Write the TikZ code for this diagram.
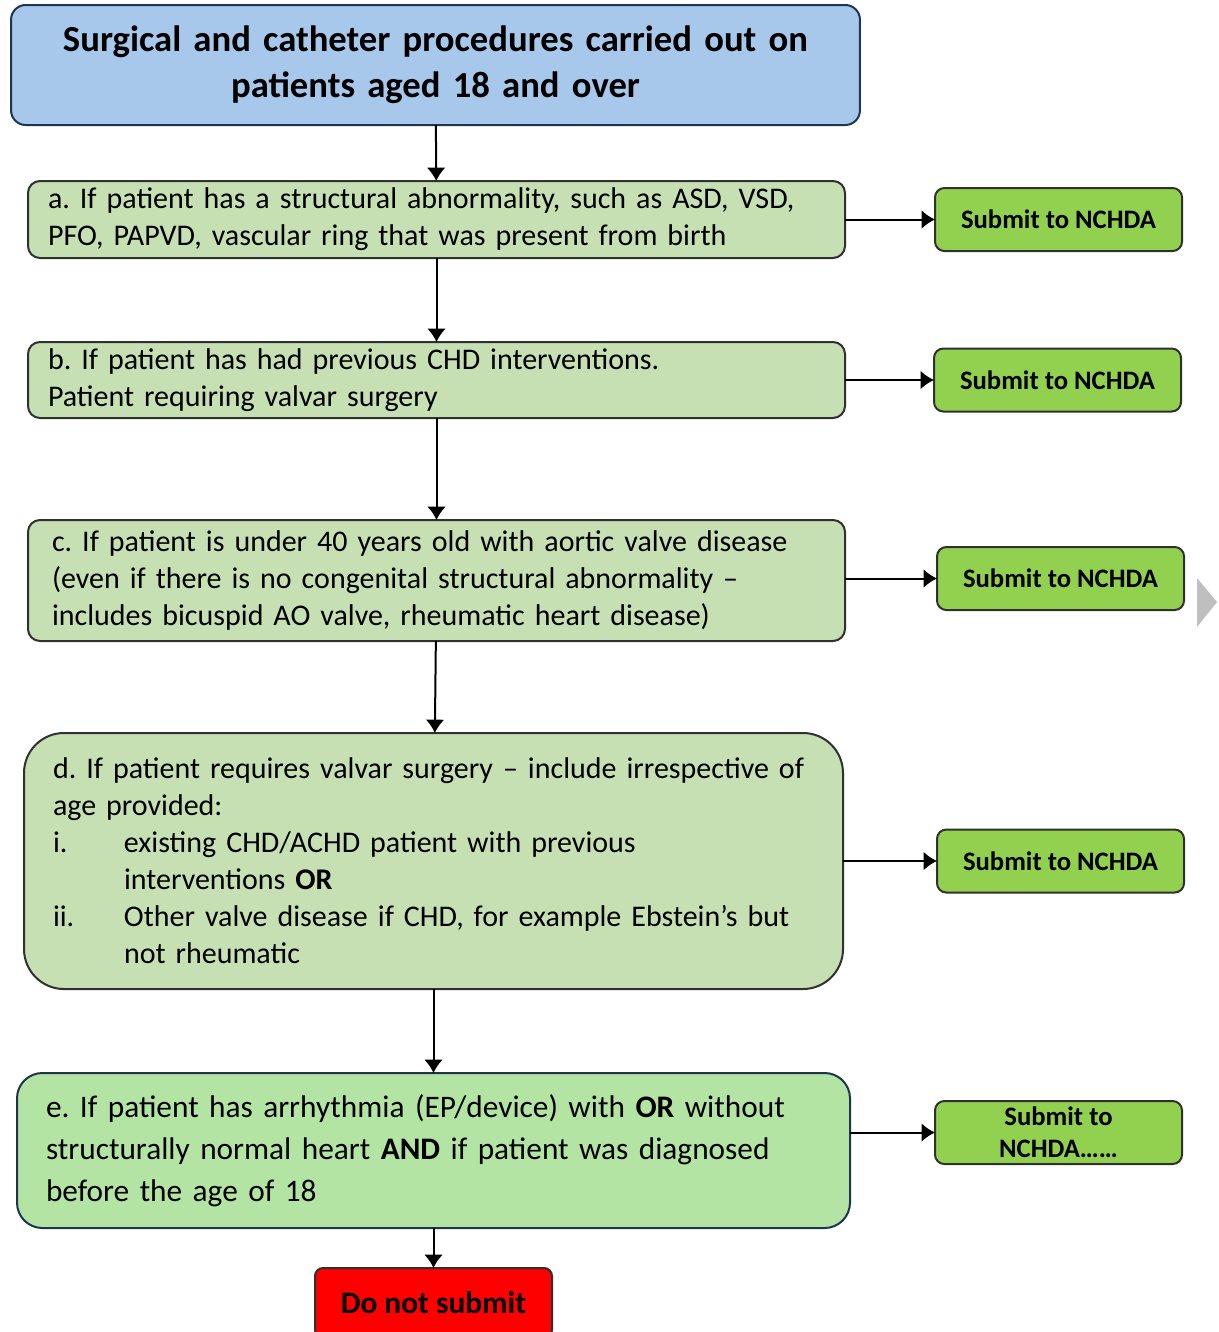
\documentclass[tikz,border=0pt]{standalone}
\usepackage{fontspec}
\setmainfont{Carlito}
\usepackage{tikz}
\usetikzlibrary{positioning,arrows.meta}
\frenchspacing

\definecolor{headblue}{HTML}{A7C8EB}
\definecolor{headline}{HTML}{1F3451}
\definecolor{condgreen}{HTML}{C6E0B4}
\definecolor{condline}{HTML}{303030}
\definecolor{lastgreen}{HTML}{B4E4A3}
\definecolor{submitgreen}{HTML}{92D050}
\definecolor{stopred}{HTML}{FF0000}

\begin{document}
\begin{tikzpicture}[
    x=0.75pt, y=-0.75pt,
    >={Latex[length=10pt,width=14pt]},
    line width=1.5pt,
    outer sep=0pt,
    header/.style={
		rectangle,
		rounded corners=11pt,
		draw=headline,
		fill=headblue,
		align=center,
		text width=630pt,
		minimum height=90pt,
		font=\bfseries\fontsize{27.5}{34.5}\selectfont
	},
	cond/.style={
		rectangle,
		rounded corners=9pt,
		draw=condline,
		fill=condgreen,
		align=left,
		inner xsep=15pt,
		inner ysep=0pt,
		text width=582.75pt,
		font=\fontsize{22.5}{27.75}\selectfont
	},
	submit/.style={
		rectangle,
		rounded corners=7pt,
		draw=condline,
		fill=submitgreen,
		align=center,
		minimum width=185.25pt,
		minimum height=47.25pt,
		inner ysep=0pt,
		font=\bfseries\fontsize{20}{24}\selectfont
	},
	nosubmit/.style={
		rectangle,
		rounded corners=6pt,
		draw=condline,
		fill=stopred,
		minimum width=177.75pt,
		minimum height=52.5pt,
		font=\bfseries\fontsize{23.5}{27}\selectfont
	}
  ]

\useasboundingbox (0,0) rectangle (1219,1332);
\clip (0,0) rectangle (1219,1332);

% // the question chain
\node [header] (head) at (435.5,65) {Surgical and catheter procedures carried out on\\ patients aged 18 and over};

\node [cond, minimum height=57.75pt, below=42pt of head, xshift=0.75pt] (qa)
 {a. If patient has a structural abnormality, such as ASD, VSD,\\
  PFO, PAPVD, vascular ring that was present from birth};

\node [cond, minimum height=57pt, below=63pt of qa] (qb)
 {b. If patient has had previous CHD interventions.\\
  Patient requiring valvar surgery};

\node [cond, minimum height=90.75pt, below=76.5pt of qb, inner xsep=18pt, text width=576.75pt] (qc)
 {c. If patient is under 40 years old with aortic valve disease\\
  (even if there is no congenital structural abnormality –\\
  includes bicuspid AO valve, rheumatic heart disease)};

\node [cond, rounded corners=30pt, minimum height=192pt, below=69pt of qc, xshift=-2.25pt,
       inner xsep=21.75pt, text width=570.75pt] (qd)
 {d. If patient requires valvar surgery – include irrespective of\\
  age provided:\\
  \makebox[53.25pt][l]{i.}existing CHD/ACHD patient with previous\\
  \hspace*{53.25pt}interventions \textbf{OR}\\
  \makebox[53.25pt][l]{ii.}Other valve disease if CHD, for example Ebstein’s but\\
  \hspace*{53.25pt}not rheumatic};

\node [cond, rounded corners=19pt, draw=headline, fill=lastgreen, minimum height=116.25pt,
       below=63pt of qd, inner xsep=21.75pt, text width=581.25pt,
       font=\fontsize{23.5}{31.5}\selectfont] (qe)
 {e. If patient has arrhythmia (EP/device) with \textbf{OR} without\\
  structurally normal heart \textbf{AND} if patient was diagnosed\\
  before the age of 18};

\node [nosubmit, below=30pt of qe] (stop) {Do not submit};

% // the outcomes
\node [submit, right=67.5pt of qa] (sa) {Submit to NCHDA};
\node [submit, right=66.75pt of qb] (sb) {Submit to NCHDA};
\node [submit, right=69pt of qc, yshift=1.5pt] (sc) {Submit to NCHDA};
\node [submit, right=70.5pt of qd] (sd) {Submit to NCHDA};
\node [submit, right=63.75pt of qe, yshift=13.5pt] (se) {Submit to\\ NCHDA……};

\draw [->] (head) -- (qa);
\draw [->] (qa) -- (qb);
\draw [->] (qb) -- (qc);
\draw [->] (qc) -- (qd);
\draw [->] (qd) -- (qe);
\draw [->] (qe) -- (stop);

\draw [->] (qa) -- (sa);
\draw [->] (qb) -- (sb);
\draw [->] (qc.east |- sc) -- (sc);
\draw [->] (qd) -- (sd);
\draw [->] (qe.east |- se) -- (se);

% // slide marker
\fill [gray!50] (1197,578) -- (1217,602) -- (1197,627) -- cycle;

\end{tikzpicture}
\end{document}
